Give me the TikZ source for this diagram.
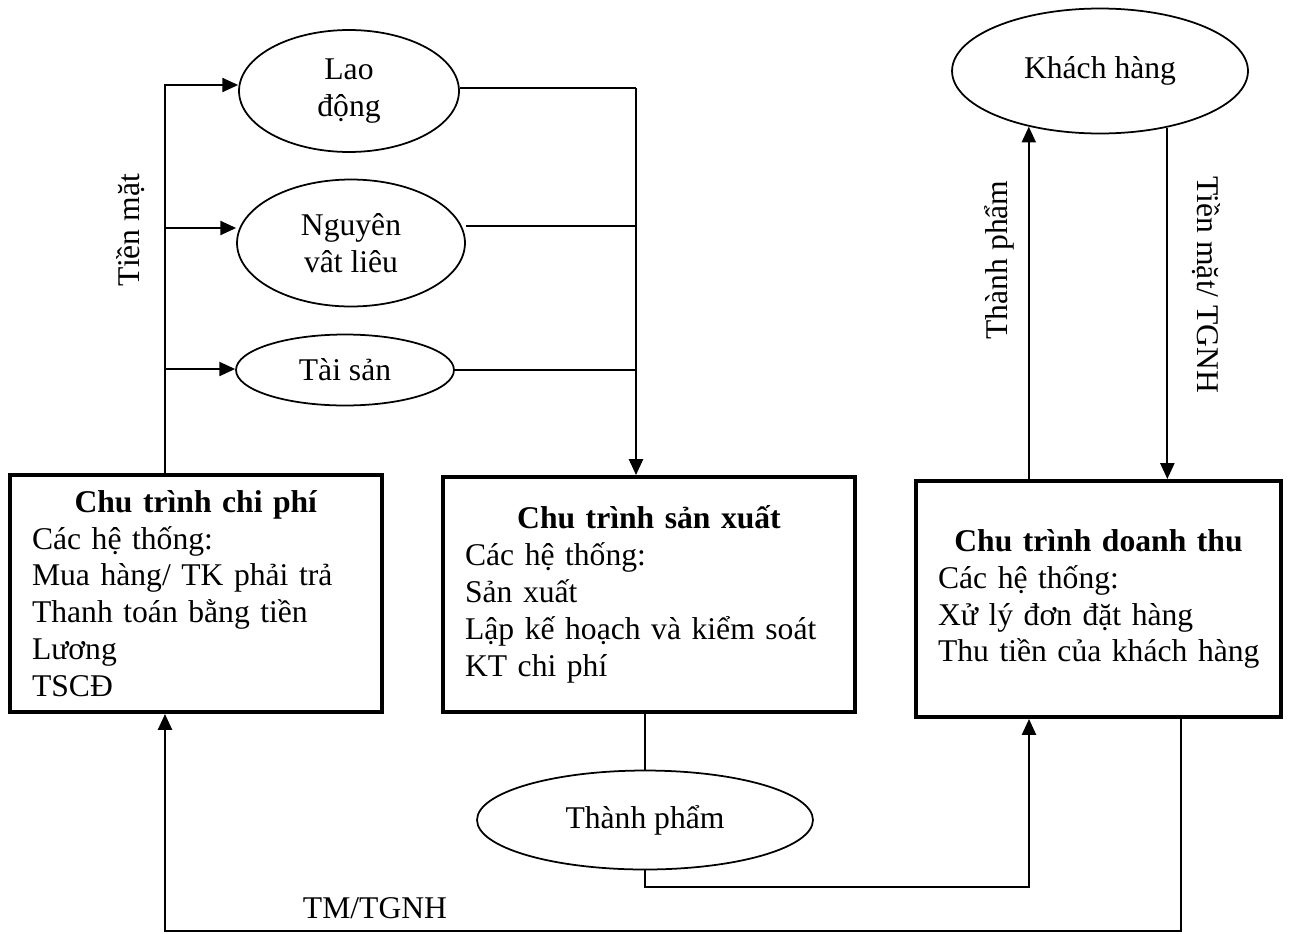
\documentclass[tikz,border=0pt]{standalone}
\usepackage{fontspec}
\setmainfont{Liberation Serif}
\usetikzlibrary{shapes.geometric, arrows.meta, positioning}

\begin{document}
\begin{tikzpicture}[
    x=0.02cm, y=-0.02cm,
    font=\fontsize{18pt}{21pt}\selectfont,
    % Styles
    cyclebox/.style={
        draw, line width=2.3pt,
        inner xsep=0.44cm, inner ysep=0pt,
        align=left
    },
    resource/.style={
        draw, ellipse, line width=1pt,
        inner sep=0pt, align=center
    },
    flow/.style={
        -{Triangle[length=9pt, width=8pt]}, line width=1.1pt
    },
    link/.style={
        line width=0.7pt
    }
]
\useasboundingbox (0,0) rectangle (1293,933);

% Resources
\node[resource, minimum width=4.4cm, minimum height=2.44cm] (lao) at (349,91) {Lao\\động};
\node[resource, minimum width=4.56cm, minimum height=2.54cm] (nvl) at (351,243) {Nguyên\\vât liêu};
\node[resource, minimum width=4.36cm, minimum height=1.42cm] (ts) at (345,370) {Tài sản};
\node[resource, minimum width=5.92cm, minimum height=2.5cm] (kh) at (1100,71) {Khách hàng};
\node[resource, minimum width=6.72cm, minimum height=1.98cm] (tp) at (645,820) {Thành phẩm};

% Cycle 1: expenditure
\node[cyclebox, text width=6.56cm, minimum height=4.74cm] (cp) at (196,593.5) {
    \makebox[\linewidth]{\textbf{Chu trình chi phí}}\\
    Các hệ thống:\\
    Mua hàng/ TK phải trả\\
    Thanh toán bằng tiền\\
    Lương\\
    TSCĐ
};

% Cycle 2: production
\node[cyclebox, text width=7.36cm, minimum height=4.7cm] (sx) at (649,594.5) {
    \makebox[\linewidth]{\textbf{Chu trình sản xuất}}\\
    Các hệ thống:\\
    Sản xuất\\
    Lập kế hoạch và kiểm soát\\
    KT chi phí
};

% Cycle 3: revenue
\node[cyclebox, text width=6.42cm, minimum height=4.72cm] (dt) at (1098.5,599) {
    \makebox[\linewidth]{\textbf{Chu trình doanh thu}}\\
    Các hệ thống:\\
    Xử lý đơn đặt hàng\\
    \mbox{Thu tiền của khách hàng}
};

% Cash out to resources
\coordinate (cashtop) at (165,85);
\coordinate (cashmid) at (165,228);
\coordinate (cashlow) at (165,369);
\draw[flow] (cp.north -| cashtop) -- (cashtop) -- (cashtop -| lao.west);
\draw[flow] (cashmid) -- (cashmid -| nvl.west);
\draw[flow] (cashlow) -- (cashlow -| ts.west);
\node[rotate=90] (lblcash) at (131,230) {Tiền mặt};

% Resources into production
\coordinate (intop) at (636,88);
\coordinate (inmid) at (636,226);
\coordinate (inlow) at (636,370);
\draw[link] (lao.east |- intop) -- (intop);
\draw[link] (nvl.east |- inmid) -- (inmid);
\draw[link] (ts.east) -- (inlow);
\draw[flow] (intop) -- (intop |- sx.north);

% Finished goods to revenue
\coordinate (tpjoin) at (645,887);
\coordinate (tpx) at (1029,887);
\draw[link] (tp.north |- sx.south) -- (tp.north);
\draw[flow] (tp.south) -- (tpjoin) -- (tpx) -- (tpx |- dt.south);

% Customers
\draw[flow] (dt.north -| kh.218) -- (kh.218);
\draw[flow] (kh.320) -- (kh.320 |- dt.north);
\node[rotate=90] (lblgoods) at (999,260) {Thành phẩm};
\node[rotate=-90] (lblpay) at (1206,285) {Tiền mặt/ TGNH};

% Cash back to expenditure
\coordinate (payright) at (1181,931);
\coordinate (payleft) at (165,931);
\draw[flow] (dt.south -| payright) -- (payright) -- (payleft) -- (payleft |- cp.south);
\node (lbltm) at (375,908) {TM/TGNH};

\end{tikzpicture}
\end{document}
